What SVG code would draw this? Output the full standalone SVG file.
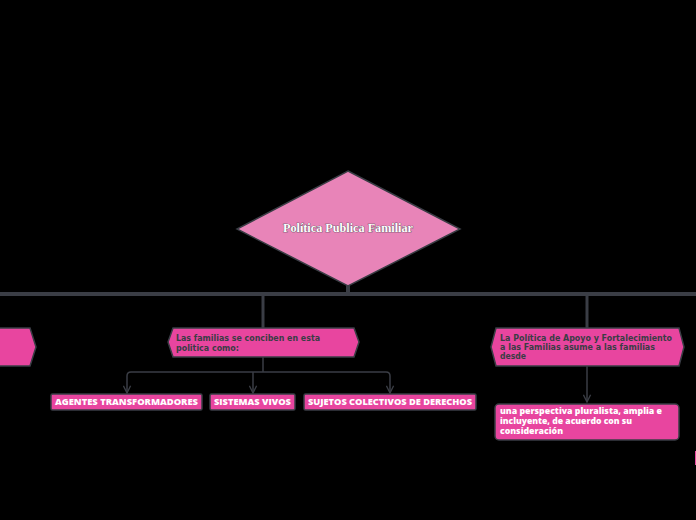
<svg xmlns="http://www.w3.org/2000/svg" width="696" height="520" viewBox="0 0 696 520">
<defs>
<style>
.node{fill:#e8459f;stroke:#3a3d45;stroke-width:1.5}
.lbl{font-family:"DejaVu Sans",sans-serif;font-weight:bold;font-size:8px;fill:#3a3d45}
.leaf{font-family:"Open Sans","Liberation Sans",sans-serif;font-weight:800;font-size:8px;fill:#ffffff}
.conn{fill:none;stroke:#3a3d45;stroke-width:1.5}
.bar{fill:#3a3d45}
</style>
<marker id="arr" viewBox="0 0 10 10" refX="9" refY="5" markerWidth="6" markerHeight="6" orient="auto">
<path d="M1,1 L9,5 L1,9" fill="none" stroke="#3a3d45" stroke-width="1.5"/>
</marker>
</defs>
<rect width="696" height="520" fill="#000"/>
<g id="connectors">
<rect class="bar" x="0" y="292" width="696" height="4"/>
<rect class="bar" x="346" y="284" width="4" height="10"/>
<path d="M263,296 V328" stroke="#3a3d45" stroke-width="3" fill="none"/>
<path d="M587,296 V328" stroke="#3a3d45" stroke-width="3" fill="none"/>
<path class="conn" d="M263,357 V372"/>
<path class="conn" d="M253,372 H131 Q127,372 127,376 V393" marker-end="url(#arr)"/>
<path class="conn" d="M253,372 V393" marker-end="url(#arr)"/>
<path class="conn" d="M253,372 H386 Q390,372 390,376 V393" marker-end="url(#arr)"/>
<path class="conn" d="M587,366 V402" marker-end="url(#arr)"/>
</g>
<g id="root">
<polygon points="348,171 460,229 348,286 237,229" fill="#e884b8" stroke="#3a3d45" stroke-width="1.5"/>
<text x="348" y="232" text-anchor="middle" font-family="Liberation Serif,serif" font-weight="bold" font-size="11.5" fill="#fff" stroke="#3a3d45" stroke-width="0.6" paint-order="stroke" textLength="130" lengthAdjust="spacingAndGlyphs">Política Publica Familiar</text>
</g>
<g id="left-node">
<polygon class="node" points="-5,328 30,328 36,347 30,366 -5,366"/>
</g>
<g id="familias">
<polygon class="node" points="173,328 354,328 359,342 354,357 173,357 168,342"/>
<text class="lbl" x="176" y="341" textLength="144" lengthAdjust="spacingAndGlyphs">Las familias se conciben en esta</text>
<text class="lbl" x="176" y="351" textLength="63" lengthAdjust="spacingAndGlyphs">politica como:</text>
</g>
<g id="apoyo">
<polygon class="node" points="496,328 679,328 684,347 679,366 496,366 491,347"/>
<text class="lbl" x="500" y="341" textLength="172" lengthAdjust="spacingAndGlyphs">La Política de Apoyo y Fortalecimiento</text>
<text class="lbl" x="500" y="350" textLength="155" lengthAdjust="spacingAndGlyphs">a las Familias asume a las familias</text>
<text class="lbl" x="500" y="359" textLength="26" lengthAdjust="spacingAndGlyphs">desde</text>
</g>
<g id="agentes">
<rect class="node" x="51" y="394" width="151" height="16" rx="1.5"/>
<text class="leaf" x="126.5" y="405" text-anchor="middle" textLength="143" lengthAdjust="spacingAndGlyphs">AGENTES TRANSFORMADORES</text>
</g>
<g id="sistemas">
<rect class="node" x="210" y="394" width="85" height="16" rx="1.5"/>
<text class="leaf" x="252.5" y="405" text-anchor="middle" textLength="77" lengthAdjust="spacingAndGlyphs">SISTEMAS VIVOS</text>
</g>
<g id="sujetos">
<rect class="node" x="304" y="394" width="172" height="16" rx="1.5"/>
<text class="leaf" x="390" y="405" text-anchor="middle" textLength="164" lengthAdjust="spacingAndGlyphs">SUJETOS COLECTIVOS DE DERECHOS</text>
</g>
<g id="perspectiva">
<rect class="node" x="495" y="404" width="184" height="36" rx="4"/>
<text class="leaf" x="500" y="414" textLength="162" lengthAdjust="spacingAndGlyphs">una perspectiva pluralista, amplia e</text>
<text class="leaf" x="500" y="424" textLength="132" lengthAdjust="spacingAndGlyphs">incluyente, de acuerdo con su</text>
<text class="leaf" x="500" y="434" textLength="63" lengthAdjust="spacingAndGlyphs">consideración</text>
</g>
<g id="edge-node">
<rect x="695" y="451" width="4" height="14" fill="#e8459f"/>
</g>
</svg>
